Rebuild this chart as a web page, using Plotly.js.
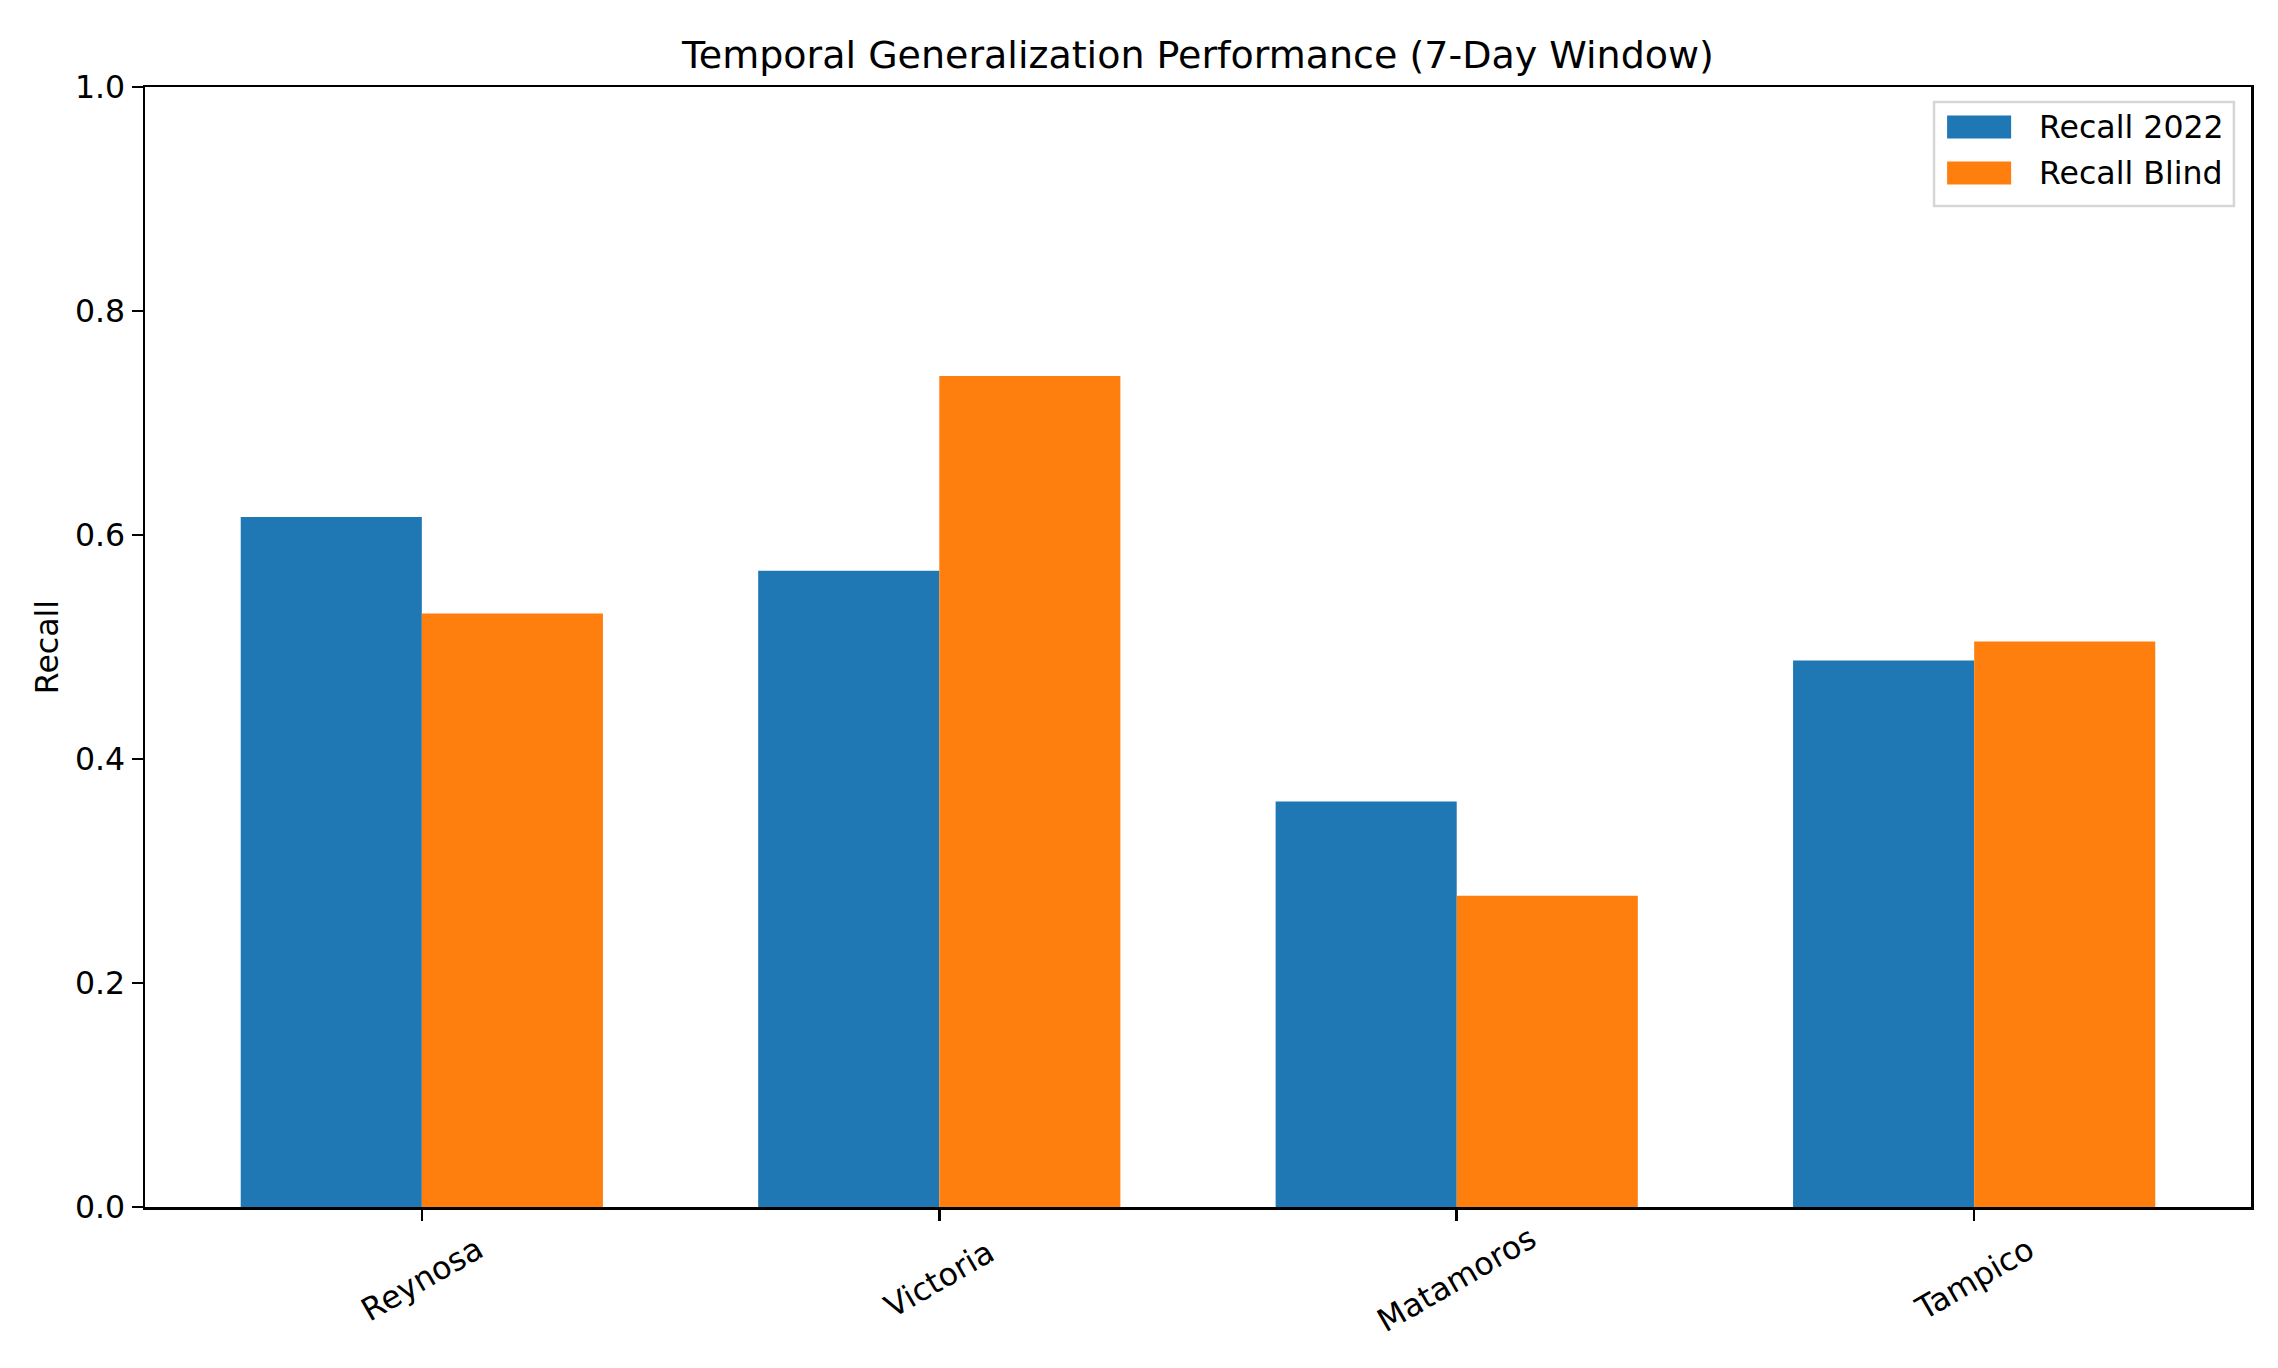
<!DOCTYPE html>
<html>
<head>
<meta charset="utf-8">
<script src="https://cdn.plot.ly/plotly-3.0.1.min.js"></script>
<style>
  html, body { margin: 0; padding: 0; background: #ffffff; }
  #chart { width: 2278px; height: 1368px; }
</style>
</head>
<body>
<div id="chart"></div>
<script>
(function () {
    'use strict';

    // Values
    const cities = ['Reynosa', 'Victoria', 'Matamoros', 'Tampico'];
    const recall2022 = [0.616, 0.568, 0.362, 0.488];
    const recallBlind = [0.530, 0.742, 0.278, 0.505];
    const seriesNames = ['Recall 2022', 'Recall Blind'];
    const yTicks = [0, 0.2, 0.4, 0.6, 0.8, 1.0];

    const COLORS = {
        blue: '#1f77b4',
        orange: '#ff7f0e',
        axis: '#000000',
        text: '#000000',
        legendEdge: '#d6d6d6'
    };
    const FONT = 'DejaVu Sans, sans-serif';
    const SIZE = 31.6;   // 10pt at this figure's dpi
    const seriesColors = [COLORS.blue, COLORS.orange];

    const traces = [recall2022, recallBlind].map((vals, i) => ({
        type: 'bar',
        name: seriesNames[i],
        x: cities,
        y: vals,
        marker: { color: seriesColors[i], line: { width: 0 } },
        hoverinfo: 'skip',
        showlegend: false
    }));

    // rotated category labels, centred under each tick like matplotlib
    const annotations = cities.map(c => ({
        text: c,
        x: c,
        xref: 'x',
        y: -0.064,
        yref: 'paper',
        xanchor: 'center',
        yanchor: 'middle',
        textangle: -30,
        showarrow: false,
        font: { family: FONT, size: SIZE, color: COLORS.text }
    }));

    // legend drawn by hand so the swatches get matplotlib's wide patches
    const legBox = { x0: 0.8495, x1: 0.9919, y0: 0.8938, y1: 0.9866 };
    const rowY = [0.9643, 0.9232];
    const shapes = [{
        type: 'rect', xref: 'paper', yref: 'paper',
        x0: legBox.x0, x1: legBox.x1, y0: legBox.y0, y1: legBox.y1,
        fillcolor: 'rgba(255,255,255,0.8)',
        line: { color: COLORS.legendEdge, width: 2.5 }
    }];
    seriesNames.forEach((name, i) => {
        shapes.push({
            type: 'rect', xref: 'paper', yref: 'paper',
            x0: 0.8557, x1: 0.8861,
            y0: rowY[i] - 0.0103, y1: rowY[i] + 0.0103,
            fillcolor: seriesColors[i],
            line: { width: 0 }
        });
        annotations.push({
            text: name,
            xref: 'paper', yref: 'paper',
            x: 0.8984, y: rowY[i],
            xanchor: 'left', yanchor: 'middle',
            showarrow: false,
            font: { family: FONT, size: SIZE, color: COLORS.text }
        });
    });

    const layout = {
        width: 2278,
        height: 1368,
        paper_bgcolor: '#ffffff',
        plot_bgcolor: '#ffffff',
        font: { family: FONT, color: COLORS.text, size: SIZE },
        margin: { l: 145, r: 27, t: 87, b: 161, pad: 0 },
        title: {
            text: 'Temporal Generalization Performance (7-Day Window)',
            font: { family: FONT, size: 38, color: COLORS.text },
            x: 0.5,
            xref: 'paper',
            y: 1 - 55 / 1368,
            yref: 'container',
            yanchor: 'middle'
        },
        barmode: 'group',
        bargap: 0.3,
        bargroupgap: 0,
        showlegend: false,
        xaxis: {
            type: 'category',
            range: [-0.535, 3.535],
            showgrid: false,
            zeroline: false,
            showline: true,
            linecolor: COLORS.axis,
            linewidth: 2.5,
            mirror: true,
            ticks: 'outside',
            ticklen: 11,
            tickwidth: 2.5,
            tickcolor: COLORS.axis,
            showticklabels: false
        },
        yaxis: {
            range: [0, 1],
            tickvals: yTicks,
            ticktext: yTicks.map(v => v.toFixed(1)),
            showgrid: false,
            zeroline: false,
            showline: true,
            linecolor: COLORS.axis,
            linewidth: 2.5,
            mirror: true,
            ticks: 'outside',
            ticklen: 11,
            tickwidth: 2.5,
            tickcolor: COLORS.axis,
            tickfont: { family: FONT, size: SIZE, color: COLORS.text },
            title: {
                text: 'Recall',
                font: { family: FONT, size: SIZE, color: COLORS.text },
                standoff: 7
            }
        },
        shapes: shapes,
        annotations: annotations
    };

    Plotly.newPlot('chart', traces, layout, { displayModeBar: false, staticPlot: true });
})();
</script>
</body>
</html>
